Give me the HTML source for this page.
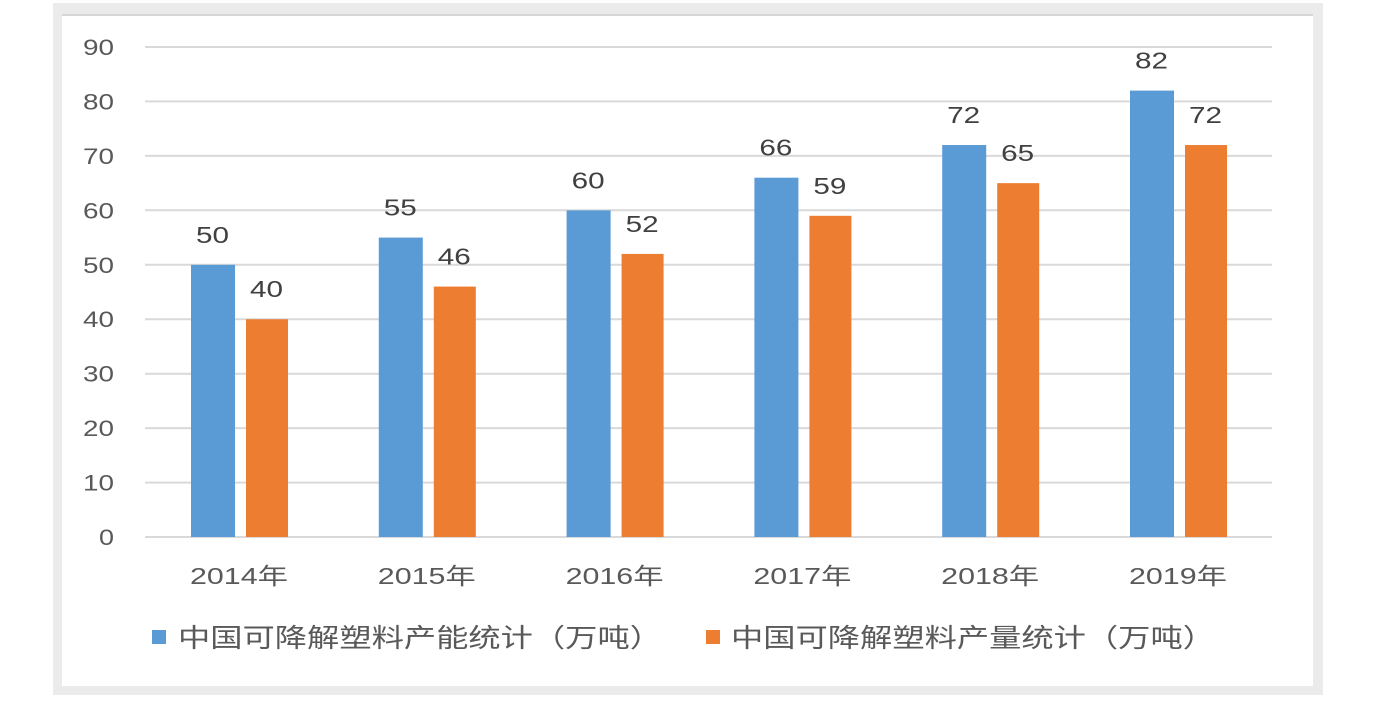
<!DOCTYPE html>
<html><head><meta charset="utf-8"><style>
body{margin:0;background:#fff;width:1398px;height:700px;overflow:hidden}
</style></head><body>
<svg width="1398" height="700" xmlns="http://www.w3.org/2000/svg" font-family="Liberation Sans, 'Noto Sans CJK SC', sans-serif">
<rect x="0" y="0" width="1398" height="700" fill="#fff"/>
<rect x="53" y="3" width="1270" height="692" fill="#ebebeb"/>
<rect x="62" y="15" width="1251" height="671" fill="#fff"/>
<line x1="62" y1="15" x2="1313" y2="15" stroke="#d6d6d6" stroke-width="2"/>
<g stroke="#d9d9d9" stroke-width="2">
<line x1="145" x2="1272" y1="47" y2="47"/><line x1="145" x2="1272" y1="101.4" y2="101.4"/>
<line x1="145" x2="1272" y1="155.9" y2="155.9"/><line x1="145" x2="1272" y1="210.3" y2="210.3"/>
<line x1="145" x2="1272" y1="264.8" y2="264.8"/><line x1="145" x2="1272" y1="319.2" y2="319.2"/>
<line x1="145" x2="1272" y1="373.7" y2="373.7"/><line x1="145" x2="1272" y1="428.1" y2="428.1"/>
<line x1="145" x2="1272" y1="482.6" y2="482.6"/><line x1="145" x2="1272" y1="537" y2="537"/>
</g>
<g fill="#595959" font-size="22" id="yl"></g>
<g id="bars"></g>
<g fill="#595959" font-size="23" id="xl"></g>
<g fill="#404040" font-size="23" id="vl"></g>
<rect x="152" y="630" width="14" height="14" fill="#5b9bd5"/>
<text x="178" y="647" font-size="26" fill="#595959" textLength="484" lengthAdjust="spacingAndGlyphs">中国可降解塑料产能统计（万吨）</text>
<rect x="706" y="630" width="14" height="14" fill="#ed7d31"/>
<text x="731" y="647" font-size="26" fill="#595959" textLength="484" lengthAdjust="spacingAndGlyphs">中国可降解塑料产量统计（万吨）</text>
<script>
var a=[50,55,60,66,72,82],b=[40,46,52,59,65,72],s=5.444,base=537,ns="http://www.w3.org/2000/svg";
var bars=document.getElementById('bars'),xl=document.getElementById('xl'),vl=document.getElementById('vl'),yl=document.getElementById('yl');
function el(t,at,p,txt){var e=document.createElementNS(ns,t);for(var k in at)e.setAttribute(k,at[k]);if(txt!==undefined)e.textContent=txt;p.appendChild(e);}
for(var v=0;v<=90;v+=10){var w=v==0?15:31;el('text',{x:114-w,y:base-v*s+8,textLength:w,lengthAdjust:'spacingAndGlyphs'},yl,v);}
for(var i=0;i<6;i++){var c=239+i*187.8;
el('rect',{x:c-48,y:base-a[i]*s,width:44,height:a[i]*s,fill:'#5b9bd5'},bars);
el('rect',{x:c+7,y:base-b[i]*s,width:42,height:b[i]*s,fill:'#ed7d31'},bars);
el('text',{x:c-43,y:base-a[i]*s-22,textLength:33,lengthAdjust:'spacingAndGlyphs'},vl,a[i]);
el('text',{x:c+11,y:base-b[i]*s-22,textLength:33,lengthAdjust:'spacingAndGlyphs'},vl,b[i]);
el('text',{x:c-49,y:584,textLength:98,lengthAdjust:'spacingAndGlyphs'},xl,(2014+i)+'年');}
</script>
</svg>
</body></html>
